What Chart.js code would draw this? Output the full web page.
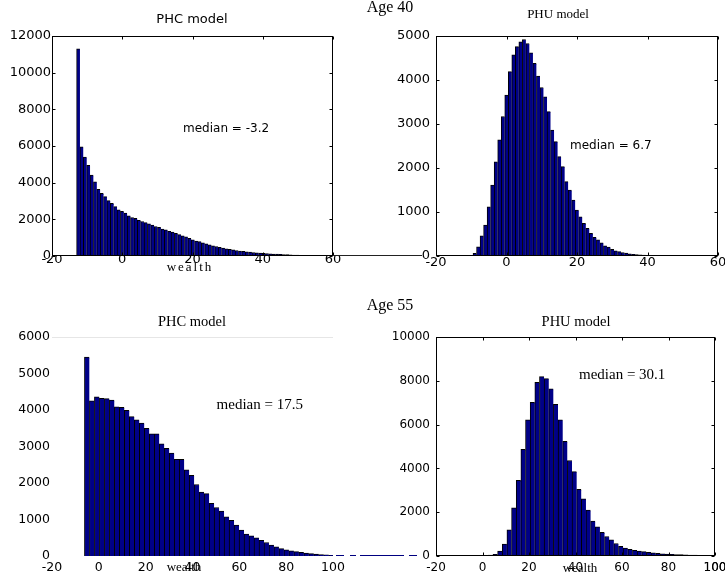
<!DOCTYPE html>
<html>
<head>
<meta charset="utf-8">
<script src="https://cdn.jsdelivr.net/npm/chart.js@4.4.1/dist/chart.umd.min.js"></script>
<style>
  html, body { margin: 0; padding: 0; background: #fff; overflow: hidden; }
  #fig { position: relative; width: 725px; height: 580px; overflow: hidden; }
  #fig canvas { position: absolute; left: 0; top: 0; }
</style>
</head>
<body>
<div id="fig">
  <canvas id="phc40" width="750" height="580"></canvas>
  <canvas id="phu40" width="750" height="580"></canvas>
  <canvas id="phc55" width="750" height="580"></canvas>
  <canvas id="phu55" width="750" height="580"></canvas>
</div>
<script>
// Histogram counts (wealth bins, left edge + width)
const phc40Start = -13, phc40Width = 0.96;
const phc40Counts = [
    11300, 5950, 5400, 4950, 4420, 4050, 3640, 3420, 3240, 3020,
    2870, 2690, 2520, 2430, 2340, 2190, 2100, 2050, 1940, 1880,
    1820, 1750, 1690, 1610, 1560, 1470, 1430, 1350, 1300, 1240,
    1170, 1100, 1040, 960, 880, 820, 780, 720, 660, 610,
    560, 520, 475, 435, 395, 360, 330, 300, 275, 250,
    230, 210, 192, 176, 160, 147, 134, 122, 111, 100,
    90, 80, 71, 63, 55, 48, 42, 36, 31, 26,
    22, 18, 15, 12, 10
];

const phu40Start = -9.5, phu40Width = 1;
const phu40Counts = [
    60, 210, 460, 700, 1120, 1610, 2140, 2640, 3170, 3660,
    4190, 4570, 4760, 4870, 4920, 4830, 4620, 4380, 4090, 3830,
    3620, 3280, 2860, 2600, 2260, 2030, 1690, 1500, 1270, 1045,
    890, 740, 630, 515, 425, 365, 300, 230, 200, 150,
    120, 100, 80, 65, 50, 40, 32, 25, 20, 15,
    12, 10, 8, 6, 5
];

const phc55Start = -6.15, phc55Width = 2.13;
const phc55Counts = [
    5450, 4250, 4360, 4320, 4310, 4270, 4090, 4070, 3990, 3820,
    3730, 3640, 3500, 3350, 3350, 3070, 2950, 2820, 2650, 2650,
    2360, 2210, 1960, 1750, 1710, 1440, 1330, 1230, 1070, 980,
    850, 710, 600, 550, 500, 430, 370, 300, 250, 200,
    170, 140, 120, 100, 80, 65, 50, 40, 30, 20
];

const phu55Start = -5.5, phu55Width = 2;
const phu55Counts = [
    10, 15, 20, 30, 40, 80, 230, 550, 1200, 2200,
    3450, 4870, 6220, 7020, 7930, 8190, 8100, 7630, 6920, 6220,
    5240, 4360, 3850, 3040, 2610, 2100, 1590, 1330, 1080, 890,
    740, 570, 440, 360, 300, 260, 230, 200, 170, 140,
    120, 100, 90, 80, 70, 60, 50, 40, 40, 30,
    20, 20, 10
];

// Tick labels
const xTicks40 = [-20, 0, 20, 40, 60];
const xTicks55 = [-20, 0, 20, 40, 60, 80, 100];
const yTicksPhc40 = [0, 2000, 4000, 6000, 8000, 10000, 12000];
const yTicksPhu40 = [0, 1000, 2000, 3000, 4000, 5000];
const yTicksPhc55 = [0, 1000, 2000, 3000, 4000, 5000, 6000];
const yTicksPhu55 = [0, 2000, 4000, 6000, 8000, 10000];

// Texts
const panelTitles = ['PHC model', 'PHU model', 'PHC model', 'PHU model'];
const ageLabels = ['Age 40', 'Age 55'];
const medianLabels = ['median = -3.2', 'median = 6.7', 'median = 17.5', 'median = 30.1'];
const xAxisLabel = 'wealth';

const SANS = "'DejaVu Sans', sans-serif";
const SERIF = "'Liberation Serif', 'Times New Roman', serif";
const BAR_COLOR = '#000088';
const CANVAS_W = 750, CANVAS_H = 580;

// bins -> {x: centre, y: count}
function toPoints(start, width, counts) {
    return counts.map((c, i) => ({ x: start + width * (i + 0.5), y: c }));
}

// MATLAB-ish decorations: box, inward ticks, free texts and stray lines
function decor(cfg) {
    return {
        id: 'decor',
        afterDraw(chart) {
            const ctx = chart.ctx;
            const a = chart.chartArea;
            const xs = chart.scales.x;
            const ys = chart.scales.y;
            ctx.save();
            ctx.lineWidth = 1;
            const L = Math.round(a.left) + 0.5, R = Math.round(a.right) - 0.5;
            const T = Math.round(a.top) + 0.5, B = Math.round(a.bottom) - 0.5;

            if (cfg.box) {
                ctx.strokeStyle = '#000';
                ctx.strokeRect(L, T, R - L, B - T);
                ctx.beginPath();
                xs.ticks.forEach(t => {
                    const px = Math.round(xs.getPixelForValue(t.value)) + 0.5;
                    ctx.moveTo(px, B); ctx.lineTo(px, B - 3);
                    ctx.moveTo(px, T); ctx.lineTo(px, T + 3);
                });
                ys.ticks.forEach(t => {
                    const py = Math.round(ys.getPixelForValue(t.value)) + 0.5;
                    ctx.moveTo(L, py); ctx.lineTo(L + 3, py);
                    ctx.moveTo(R, py); ctx.lineTo(R - 3, py);
                });
                ctx.stroke();
            }

            (cfg.lines || []).forEach(l => {
                ctx.strokeStyle = l.color;
                ctx.beginPath();
                ctx.moveTo(l.x1, l.y + 0.5);
                ctx.lineTo(l.x2, l.y + 0.5);
                ctx.stroke();
            });

            (cfg.texts || []).forEach(t => {
                ctx.font = t.font;
                ctx.fillStyle = '#000';
                ctx.textAlign = t.align || 'center';
                ctx.textBaseline = 'middle';
                ctx.letterSpacing = t.spacing || '0px';
                let x = t.x, y = t.y;
                if (t.data) {
                    x = xs.getPixelForValue(t.x);
                    y = ys.getPixelForValue(t.y);
                } else if (t.dataX) {
                    x = xs.getPixelForValue(t.x);
                }
                ctx.fillText(t.text, x, y);
            });
            ctx.restore();
        }
    };
}

function makeChart(id, p) {
    const tickFont = { family: SANS, size: p.tickSize };
    const yAxisW = 50, xAxisH = 20;
    return new Chart(document.getElementById(id), {
        type: 'bar',
        data: {
            datasets: [{
                data: toPoints(p.start, p.width, p.counts),
                backgroundColor: BAR_COLOR,
                borderColor: '#000',
                borderWidth: { left: 1, top: 1, right: 0, bottom: 0 },
                borderSkipped: false,
                categoryPercentage: 1,
                barPercentage: 1
            }]
        },
        options: {
            responsive: false,
            animation: false,
            devicePixelRatio: 1,
            layout: {
                padding: {
                    left: p.area.left - yAxisW,
                    right: CANVAS_W - p.area.right,
                    top: p.area.top,
                    bottom: CANVAS_H - p.area.bottom - xAxisH
                }
            },
            plugins: {
                legend: { display: false },
                title: { display: false },
                tooltip: { enabled: false }
            },
            scales: {
                x: {
                    type: 'linear',
                    min: p.xTicks[0],
                    max: p.xTicks[p.xTicks.length - 1],
                    offset: false,
                    grid: { display: false, drawTicks: false },
                    border: { display: false },
                    afterBuildTicks: s => { s.ticks = p.xTicks.map(v => ({ value: v })); },
                    afterFit: s => { s.height = xAxisH; s.paddingLeft = 0; s.paddingRight = 0; },
                    ticks: {
                        font: tickFont, color: '#000', padding: p.xPad,
                        maxRotation: 0, autoSkip: false,
                        callback: v => String(v)
                    }
                },
                y: {
                    min: p.yTicks[0],
                    max: p.yTicks[p.yTicks.length - 1],
                    grid: { display: false, drawTicks: false },
                    border: { display: false },
                    afterBuildTicks: s => { s.ticks = p.yTicks.map(v => ({ value: v })); },
                    afterFit: s => { s.width = yAxisW; s.paddingTop = 0; s.paddingBottom = 0; },
                    ticks: {
                        font: tickFont, color: '#000', padding: p.yPad,
                        autoSkip: false,
                        callback: v => String(v)
                    }
                }
            }
        },
        plugins: [decor(p.decor)]
    });
}

// Age 40, PHC model
makeChart('phc40', {
    start: phc40Start, width: phc40Width, counts: phc40Counts,
    xTicks: xTicks40, yTicks: yTicksPhc40, tickSize: 13,
    area: { left: 52, right: 333, top: 36, bottom: 256 },
    xPad: -4, yPad: 1,
    decor: {
        box: true,
        lines: [{ x1: 333, x2: 422, y: 255, color: '#222' }],
        texts: [
            { text: panelTitles[0], x: 192, y: 19.5, font: '13px ' + SANS },
            { text: medianLabels[0], x: 17.3, y: 6950, data: true, align: 'left', font: '12px ' + SANS },
            { text: xAxisLabel, x: 190, y: 268, font: '13px ' + SERIF, spacing: '2px' }
        ]
    }
});

// Age 40, PHU model
makeChart('phu40', {
    start: phu40Start, width: phu40Width, counts: phu40Counts,
    xTicks: xTicks40, yTicks: yTicksPhu40, tickSize: 13,
    area: { left: 436, right: 718, top: 36, bottom: 256 },
    xPad: -1, yPad: 6,
    decor: {
        box: true,
        texts: [
            { text: ageLabels[0], x: 390, y: 8, font: '16px ' + SERIF },
            { text: panelTitles[1], x: 558, y: 15, font: '13px ' + SERIF },
            { text: medianLabels[1], x: 18, y: 2500, data: true, align: 'left', font: '12px ' + SANS }
        ]
    }
});

// Age 55, PHC model
makeChart('phc55', {
    start: phc55Start, width: phc55Width, counts: phc55Counts,
    xTicks: xTicks55, yTicks: yTicksPhc55, tickSize: 12.5,
    area: { left: 52, right: 333, top: 337, bottom: 556 },
    xPad: 4, yPad: 2,
    decor: {
        box: false,
        lines: [
            { x1: 52, x2: 333, y: 337, color: '#e6e6e6' },
            { x1: 336, x2: 344, y: 555, color: '#000080' },
            { x1: 350, x2: 356, y: 555, color: '#000080' },
            { x1: 360, x2: 404, y: 555, color: '#000080' },
            { x1: 409, x2: 417, y: 555, color: '#000080' }
        ],
        texts: [
            { text: panelTitles[2], x: 192, y: 322, font: '14.5px ' + SERIF },
            { text: medianLabels[2], x: 50.3, y: 4140, data: true, align: 'left', font: '15px ' + SERIF },
            { text: xAxisLabel, x: 184, y: 568, font: '13px ' + SERIF }
        ]
    }
});

// Age 55, PHU model
makeChart('phu55', {
    start: phu55Start, width: phu55Width, counts: phu55Counts,
    xTicks: xTicks55, yTicks: yTicksPhu55, tickSize: 12,
    area: { left: 436, right: 715, top: 337, bottom: 556 },
    xPad: 5, yPad: 6,
    decor: {
        box: true,
        texts: [
            { text: ageLabels[1], x: 390, y: 306, font: '16px ' + SERIF },
            { text: panelTitles[3], x: 576, y: 322, font: '14.5px ' + SERIF },
            { text: medianLabels[3], x: 41.5, y: 8250, data: true, align: 'left', font: '15px ' + SERIF },
            { text: xAxisLabel, x: 580, y: 569, font: '13px ' + SERIF },
            // last tick label goes missing at the page edge, draw it here
            { text: String(xTicks55[xTicks55.length - 1]), x: xTicks55[xTicks55.length - 1], dataX: true, y: 568, font: '12px ' + SANS }
        ]
    }
});
</script>
</body>
</html>
